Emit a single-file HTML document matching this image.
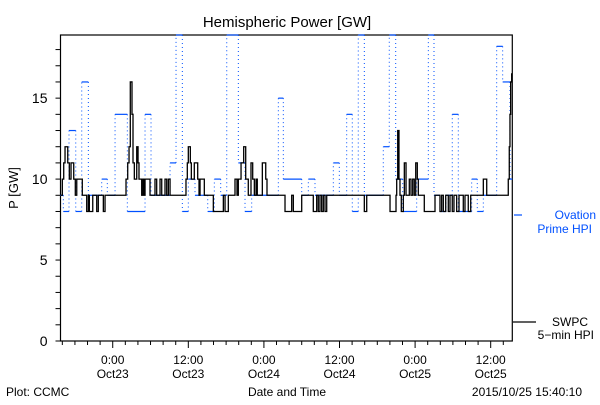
<!DOCTYPE html>
<html><head><meta charset="utf-8"><style>
body{margin:0;background:#fff;}
svg text{font-family:"Liberation Sans",sans-serif;fill:#000;}
</style></head><body>
<svg id="chart" width="600" height="400" viewBox="0 0 600 400" xmlns="http://www.w3.org/2000/svg">
<rect width="600" height="400" fill="#fff"/>
<text x="287" y="27" font-size="15" text-anchor="middle">Hemispheric Power [GW]</text>
<text transform="translate(18,188) rotate(-90)" font-size="13" text-anchor="middle">P [GW]</text>
<text x="287" y="396" font-size="12" text-anchor="middle">Date and Time</text>
<text x="6" y="396" font-size="12">Plot: CCMC</text>
<text x="582" y="396" font-size="12" text-anchor="end">2015/10/25 15:40:10</text>
<g id="axes"></g>
<g id="blue"></g>
<g id="black"></g>
<g>
<line x1="514" y1="215" x2="522" y2="215" stroke="#0050ff" stroke-width="1.2"/>
<text x="596" y="219" font-size="12" text-anchor="end" style="fill:#0050ff">Ovation</text>
<text x="592" y="233" font-size="12" text-anchor="end" style="fill:#0050ff">Prime HPI</text>
</g>
<g>
<line x1="513" y1="322" x2="536" y2="322" stroke="#000" stroke-width="1.2"/>
<text x="588" y="326" font-size="12" text-anchor="end">SWPC</text>
<text x="594" y="339" font-size="12" text-anchor="end">5−min HPI</text>
</g>
</svg>
<script>
const yTicks=[0,5,10,15];
const xTickHours=[0,12,24,36,48,60];
const xTickTime=["0:00","12:00","0:00","12:00","0:00","12:00"];
const xTickDate=["Oct23","Oct23","Oct24","Oct24","Oct25","Oct25"];
const blueT=[-8.29,-7.84,-6.94,-5.87,-4.92,-3.87,-1.75,-0.86,0.37,2.32,5.13,6.08,9.10,10.05,11.05,12.0,13.06,15.08,16.13,17.14,18.1,19.94,21.0,22.06,26.29,27.08,30.0,31.05,32.11,35.02,35.97,37.14,38.03,38.98,39.94,42.95,43.9,44.92,46.03,48.25,50.1,51.0,51.95,52.9,53.9,54.86,56.98,57.87,58.83,60.95,61.9,63.06];
const blueV=[9,8,13,8,16,9,10,9,14,8,14,9,11,20,8,10,9,8,10,9,20,11,8,9,15,10,9,10,9,11,9,14,8,20,9,12,20,10,8,10,20,9,8,9,14,8,10,8,9,18.2,16,10];
const blackT=[-8.21,-8.0,-7.78,-7.57,-7.14,-6.89,-6.62,-6.19,-5.94,-5.71,-4.83,-4.13,-3.87,-3.71,-3.17,-2.54,-2.29,-1.49,-1.22,2.11,2.38,2.59,2.79,3.06,3.22,3.43,3.81,4.02,4.17,4.6,4.81,4.97,5.13,5.92,6.71,6.98,7.51,7.78,8.3,8.57,8.83,9.1,11.63,11.84,12.0,12.32,12.48,12.95,13.49,13.7,13.86,14.54,15.97,17.56,17.83,18.35,19.41,19.73,19.94,20.37,20.79,21.11,21.52,21.95,22.22,22.48,22.75,22.95,23.75,24.29,24.49,27.35,28.41,28.67,30.0,31.84,32.38,32.63,32.9,33.17,33.43,33.7,33.97,39.94,40.32,44.02,44.97,45.08,45.24,45.44,45.6,45.81,46.13,46.29,46.56,47.08,47.35,47.62,47.87,48.1,48.35,48.51,49.46,51.16,51.95,52.22,52.48,52.86,53.27,53.54,53.9,54.17,54.6,54.97,55.65,55.92,56.44,56.83,58.83,59.37,62.79,62.95,63.06,63.17,63.33];
const blackV=[9,10,11,12,11,10,11,10,9,10,9,8,9,8,9,8,9,8,9,10,11,12,16,14,11,10,12,11,10,9,10,9,10,9,10,9,10,9,10,9,10,9,10,11,12,11,10,11,10,9,10,9,8,9,8,9,10,9,10,11,12,10,9,11,10,9,10,9,11,10,9,8,9,8,9,8,9,8,9,8,9,8,9,8,9,8,9,10,13,10,9,8,9,11,9,10,9,10,9,11,10,9,8,9,8,9,8,9,8,9,8,9,8,9,8,9,8,9,10,9,10,12,14,16,16.5];
const tMin=-8.29,tMax=63.43,vMax=18.9;
const L=60.5,R=512.3,T=35,B=341;
const NS="http://www.w3.org/2000/svg";
function xs(h){return L+(h-tMin)/(tMax-tMin)*(R-L);}
function ys(v){return B-Math.min(v,vMax)/vMax*(B-T);}
function mk(tag,attrs,parent){const e=document.createElementNS(NS,tag);for(const k in attrs)e.setAttribute(k,attrs[k]);parent.appendChild(e);return e;}
const ax=document.getElementById('axes');
const frame=mk('rect',{x:L,y:T,width:R-L,height:B-T,fill:'none',stroke:'#000','stroke-width':1.2},ax);


for(let v=0;v<=18;v++){const t=mk('line',{x1:L-5,x2:L,y1:ys(v),y2:ys(v),stroke:'#000'},ax);

}
yTicks.forEach(v=>{const t=mk('text',{x:L-13,y:ys(v)+5,'font-size':14,'text-anchor':'end'},ax);t.textContent=v;

});
for(let h=-8;h<=63;h+=2){const major=(h%12===0);const t=mk('line',{x1:xs(h),x2:xs(h),y1:B,y2:B+(major?7:4),stroke:'#000'},ax);

}
xTickHours.forEach((h,i)=>{const a=mk('text',{x:xs(h),y:364,'font-size':12,'text-anchor':'middle'},ax);a.textContent=xTickTime[i];


const b=mk('text',{x:xs(h),y:378,'font-size':12,'text-anchor':'middle'},ax);b.textContent=xTickDate[i];

});
// blue series
const bg=document.getElementById('blue');
for(let i=0;i<blueT.length;i++){const x0=xs(blueT[i]);const x1=xs(i+1<blueT.length?blueT[i+1]:tMax);
const s=mk('line',{x1:x0,x2:x1,y1:ys(blueV[i]),y2:ys(blueV[i]),stroke:'#0050ff','stroke-width':1.2},bg);


if(i+1<blueT.length){const d=mk('line',{x1:x1,x2:x1,y1:ys(blueV[i]),y2:ys(blueV[i+1]),stroke:'#0050ff','stroke-width':1,'stroke-dasharray':'1,3'},bg);

}}
// black series
let p='M'+xs(blackT[0])+','+ys(blackV[0]);
for(let i=1;i<blackT.length;i++){p+=' H'+xs(blackT[i])+' V'+ys(blackV[i]);}
p+=' H'+xs(tMax);
const bl=mk('path',{d:p,fill:'none',stroke:'#000','stroke-width':1.3},document.getElementById('black'));


</script>
</body></html>
